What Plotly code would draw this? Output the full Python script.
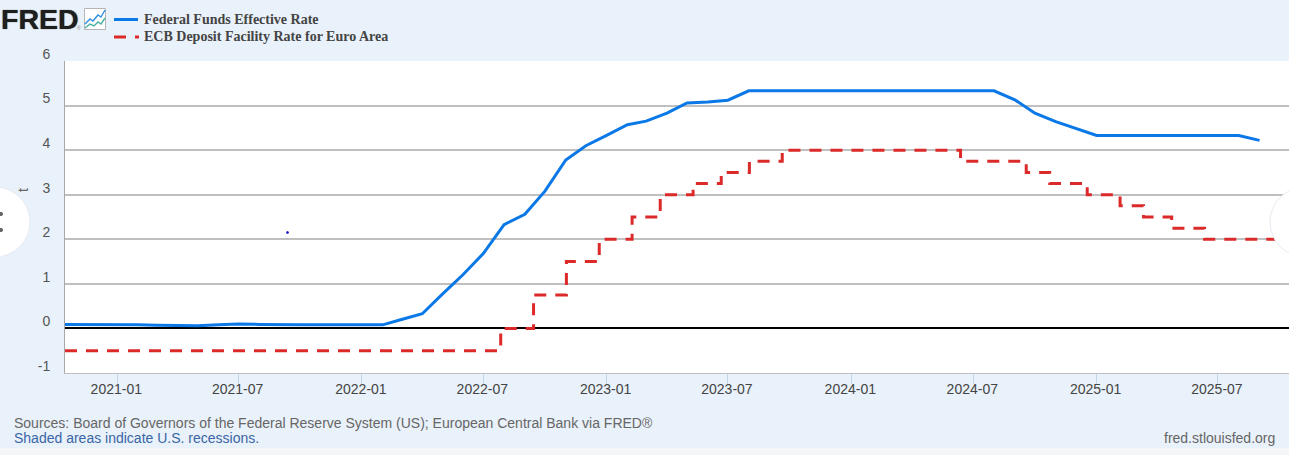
import plotly.graph_objects as go

# ---------- data ----------
ffr_dates = ["2020-10-01","2020-11-01","2020-12-01","2021-01-01","2021-02-01","2021-03-01","2021-04-01","2021-05-01",
             "2021-06-01","2021-07-01","2021-08-01","2021-09-01","2021-10-01","2021-11-01","2021-12-01","2022-01-01",
             "2022-02-01","2022-03-01","2022-04-01","2022-05-01","2022-06-01","2022-07-01","2022-08-01","2022-09-01",
             "2022-10-01","2022-11-01","2022-12-01","2023-01-01","2023-02-01","2023-03-01","2023-04-01","2023-05-01",
             "2023-06-01","2023-07-01","2023-08-01","2023-09-01","2023-10-01","2023-11-01","2023-12-01","2024-01-01",
             "2024-02-01","2024-03-01","2024-04-01","2024-05-01","2024-06-01","2024-07-01","2024-08-01","2024-09-01",
             "2024-10-01","2024-11-01","2024-12-01","2025-01-01","2025-02-01","2025-03-01","2025-04-01","2025-05-01",
             "2025-06-01","2025-07-01","2025-08-01","2025-09-01"]
ffr_values = [0.09,0.09,0.09,0.09,0.08,0.07,0.07,0.06,
              0.08,0.10,0.09,0.08,0.08,0.08,0.08,0.08,
              0.08,0.20,0.33,0.77,1.21,1.68,2.33,2.56,
              3.08,3.78,4.10,4.33,4.57,4.65,4.83,5.06,
              5.08,5.12,5.33,5.33,5.33,5.33,5.33,5.33,
              5.33,5.33,5.33,5.33,5.33,5.33,5.33,5.13,
              4.83,4.64,4.48,4.33,4.33,4.33,4.33,4.33,
              4.33,4.33,4.33,4.22]

ecb_dates = ["2020-10-15","2022-07-27","2022-09-14","2022-11-02","2022-12-21","2023-02-08","2023-03-22","2023-05-10",
             "2023-06-21","2023-08-02","2023-09-20","2024-06-12","2024-09-18","2024-10-23","2024-12-18","2025-02-05",
             "2025-03-12","2025-04-23","2025-06-11","2025-10-01"]
ecb_values = [-0.5,0.0,0.75,1.5,2.0,2.5,3.0,3.25,
              3.5,3.75,4.0,3.75,3.5,3.25,3.0,2.75,
              2.5,2.25,2.0,2.0]

y_ticks = [-1,0,1,2,3,4,5,6]
y_labels = ["-1","0","1","2","3","4","5","6"]
series_names = ["Federal Funds Effective Rate","ECB Deposit Facility Rate for Euro Area"]
x_range = ["2020-10-15","2025-10-15"]

# ---------- layout helpers ----------
W, H = 1289, 455
L, R, T, B = 65, 1289, 61, 373
SANS = "Liberation Sans, Arial, sans-serif"
SERIF = "Liberation Serif, serif"
BLUE, RED = "#0a78e6", "#dc2a2a"
def px(x): return (x-L)/(R-L)
def py(y): return (B-y)/(B-T)

BG = "#e9f1fa"
fig = go.Figure()
fig.add_trace(go.Scatter(x=ffr_dates,y=ffr_values,name=series_names[0],mode="lines",
                         line=dict(color=BLUE,width=3)))
fig.add_trace(go.Scatter(x=ecb_dates,y=ecb_values,name=series_names[1],mode="lines",
                         line=dict(color=RED,width=3,dash="12px,9px",shape="hv")))

shapes = []
def oval(cx,cy,r,fill,line=None):
    shapes.append(dict(type="circle",xref="paper",yref="paper",x0=px(cx-r),x1=px(cx+r),y0=py(cy+r),y1=py(cy-r),
                       fillcolor=fill,line=dict(color=line or fill,width=1),layer="above"))
def seg(pts,color,width=1):
    path="M "+" L ".join(f"{px(a)},{py(b)}" for a,b in pts)
    shapes.append(dict(type="path",xref="paper",yref="paper",path=path,line=dict(color=color,width=width),layer="above"))
# floating page buttons over the chart
oval(-5,222,35,"#ffffff","#e6ebf1")
oval(1305,222,35,"#ffffff","#e6ebf1")
oval(1,214,1.6,"#666666")
oval(1,230,1.6,"#666666")
oval(287.5,232.5,1,"#2222cc")
# page strip at the bottom
shapes.append(dict(type="rect",xref="paper",yref="paper",x0=px(0),x1=px(W),y0=py(H),y1=py(448),
                   fillcolor="#f5f6f7",line=dict(width=0),layer="below"))
# logo icon
shapes.append(dict(type="rect",xref="paper",yref="paper",x0=px(84.5),x1=px(105.5),y0=py(29.5),y1=py(8.5),
                   fillcolor="#ffffff",line=dict(color="#b5b5b5",width=1),layer="above"))
seg([(85,24),(90,19),(93,21),(98,15),(101,17),(105,10)],"#2f8fe0",1.4)
seg([(85,28),(90,24),(94,26),(98,22),(101,24),(105,18)],"#45b39d",1.4)
# legend keys
seg([(114,19.5),(138,19.5)],BLUE,3)
seg([(114,37),(126,37)],RED,3)
seg([(135,37),(139,37)],RED,3)

annots = []
def text(x,y,s,size,color,anchor="left",family=SANS,angle=0,shadow=None):
    font=dict(family=family,size=size,color=color)
    if shadow: font["shadow"]=shadow
    annots.append(dict(xref="paper",yref="paper",x=px(x),y=py(y),text=s,showarrow=False,
                       xanchor=anchor,yanchor="middle",font=font,
                       borderpad=0,borderwidth=0,textangle=angle))
text(1,19,"<b>FRED</b>",28.5,"#1f1f1f",shadow="0 0 1px #1f1f1f")
text(77,28.5,"®",5,"#888888")
text(144,19.5,"<b>"+series_names[0]+"</b>",14,"#444444",family=SERIF)
text(144,36.5,"<b>"+series_names[1]+"</b>",14,"#444444",family=SERIF)
text(14,423,"Sources: Board of Governors of the Federal Reserve System (US); European Central Bank via FRED®",14,"#666666")
text(14,438,"Shaded areas indicate U.S. recessions.",14,"#3a66a5")
text(1275,438,"fred.stlouisfed.org",14,"#666666","right")
text(15,190,"t",14,"#666666",angle=-90)

fig.update_layout(
    width=W,height=H,margin=dict(l=L,r=W-R,t=T,b=H-B,pad=0),
    paper_bgcolor=BG,plot_bgcolor="#ffffff",
    font=dict(family=SANS,color="#444444",size=14),
    showlegend=False,
    shapes=shapes,annotations=annots,
    xaxis=dict(type="date",range=x_range,tick0="2021-01-01",dtick="M6",tickformat="%Y-%m",
               ticks="outside",ticklen=10,tickcolor="#c5d5e8",tickwidth=1,ticklabelstandoff=-7,ticklabelshift=-1,
               showgrid=False,showline=True,linecolor="#c0c0c0",linewidth=1,
               tickfont=dict(size=14,color="#444444"),zeroline=False),
    yaxis=dict(range=[-1,6],tickvals=y_ticks,ticktext=y_labels,ticks="",
               showgrid=True,gridcolor="#c0c0c0",gridwidth=2,
               showline=True,linecolor="#a8a8a8",linewidth=1,
               zeroline=True,zerolinecolor="#000000",zerolinewidth=2,
               ticklabelstandoff=11,ticklabelshift=-7,
               tickfont=dict(size=14,color="#555555")),
)
fig.write_html("out.html",post_script="document.body.style.margin='0';",config={"displayModeBar":False})
